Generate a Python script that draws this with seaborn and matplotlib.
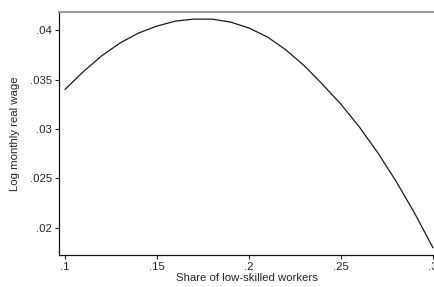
import numpy as np
import pandas as pd
import matplotlib
matplotlib.use("Agg")
import matplotlib.pyplot as plt
import seaborn as sns
from matplotlib.ticker import FuncFormatter

# data
share_low_skilled = [0.10, 0.11, 0.12, 0.13, 0.14, 0.15, 0.16, 0.17, 0.18, 0.19, 0.20,
                     0.21, 0.22, 0.23, 0.24, 0.25, 0.26, 0.27, 0.28, 0.29, 0.30]
log_wage = [0.0340, 0.0358, 0.0374, 0.0387, 0.0397, 0.0404, 0.0409, 0.0411, 0.0411, 0.0408, 0.0402,
            0.0393, 0.0380, 0.0364, 0.0345, 0.0325, 0.0302, 0.0276, 0.0247, 0.0215, 0.0180]
x_ticks = [0.10, 0.15, 0.20, 0.25, 0.30]
y_ticks = [0.020, 0.025, 0.030, 0.035, 0.040]

df = pd.DataFrame({"share": share_low_skilled, "wage": log_wage})

sns.set_style("ticks")
plt.rcParams["font.family"] = ["Liberation Sans", "DejaVu Sans"]

fig = plt.figure(figsize=(4.35, 2.87), dpi=100)
ax = fig.add_axes([59 / 435, 32 / 287, 376 / 435, 243 / 287])

sns.lineplot(data=df, x="share", y="wage", ax=ax, color="#1a1a1a", linewidth=0.9)

ax.set_xlim(0.09674, 0.3011)
ax.set_ylim(0.01727, 0.04182)
ax.set_xticks(x_ticks)
ax.set_yticks(y_ticks)

def stata_fmt(v, pos):
    s = f"{v:.3f}".rstrip("0").rstrip(".")
    return s[1:] if s.startswith("0") else s

ax.xaxis.set_major_formatter(FuncFormatter(stata_fmt))
ax.yaxis.set_major_formatter(FuncFormatter(stata_fmt))
ax.tick_params(axis="both", labelsize=8.2, length=3, width=0.8, color="#222222", pad=2)

ax.set_xlabel("Share of low-skilled workers", fontsize=8.2, labelpad=1)
ax.set_ylabel("Log monthly real wage", fontsize=8.2, labelpad=7)

for side in ["left", "bottom"]:
    ax.spines[side].set_color("#111111")
    ax.spines[side].set_linewidth(0.9)
ax.spines["top"].set_visible(True)
ax.spines["top"].set_color("#9a9a9a")
ax.spines["top"].set_linewidth(1.5)
ax.spines["right"].set_visible(False)

fig.savefig("out.png", dpi=100)
